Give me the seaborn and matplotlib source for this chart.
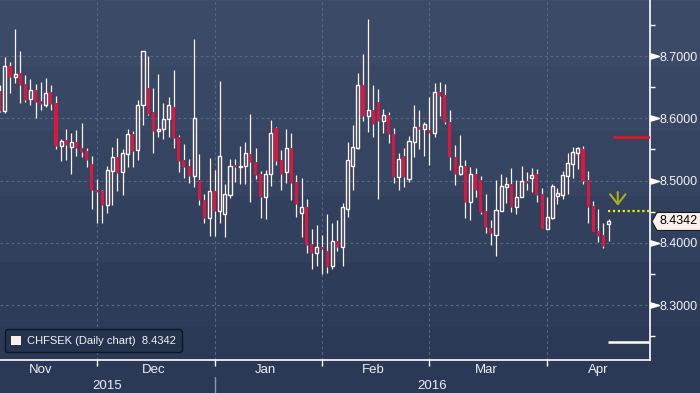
import numpy as np
import pandas as pd
import seaborn as sns
import matplotlib.pyplot as plt
import matplotlib.transforms as mtransforms
from matplotlib.colors import LinearSegmentedColormap
from matplotlib.patches import Polygon, Patch
from matplotlib.path import Path
from matplotlib.markers import MarkerStyle

# CHFSEK daily candles, 4 Nov 2015 .. 19 Apr 2016 (business days)
opens = [8.644, 8.612, 8.684, 8.667, 8.673, 8.655, 8.631, 8.645, 8.628, 8.622,
         8.642, 8.624, 8.556, 8.565, 8.554, 8.562, 8.552, 8.547, 8.527, 8.485,
         8.483, 8.460, 8.516, 8.538, 8.514, 8.542, 8.574, 8.549, 8.622, 8.649,
         8.610, 8.580, 8.583, 8.599, 8.618, 8.570, 8.533, 8.524, 8.508, 8.501,
         8.469, 8.440, 8.483, 8.451, 8.447, 8.477, 8.524, 8.521, 8.523, 8.543,
         8.530, 8.510, 8.474, 8.511, 8.585, 8.533, 8.513, 8.553, 8.498, 8.448,
         8.457, 8.398, 8.384, 8.393, 8.387, 8.362, 8.403, 8.394, 8.455, 8.524,
         8.553, 8.653, 8.604, 8.613, 8.626, 8.596, 8.605, 8.575, 8.505, 8.540,
         8.503, 8.562, 8.586, 8.583, 8.581, 8.577, 8.642, 8.637, 8.594, 8.538,
         8.511, 8.523, 8.466, 8.511, 8.501, 8.451, 8.424, 8.413, 8.451, 8.490,
         8.494, 8.457, 8.473, 8.499, 8.504, 8.510, 8.478, 8.422, 8.440, 8.475,
         8.477, 8.507, 8.527, 8.544, 8.551, 8.501, 8.459, 8.419, 8.412, 8.430]
highs = [8.653, 8.698, 8.691, 8.743, 8.708, 8.669, 8.663, 8.655, 8.659, 8.665,
         8.653, 8.636, 8.567, 8.583, 8.576, 8.581, 8.592, 8.552, 8.539, 8.502,
         8.485, 8.523, 8.554, 8.568, 8.550, 8.583, 8.580, 8.629, 8.708, 8.700,
         8.649, 8.671, 8.625, 8.634, 8.678, 8.573, 8.559, 8.535, 8.727, 8.543,
         8.479, 8.536, 8.517, 8.660, 8.494, 8.534, 8.534, 8.555, 8.562, 8.607,
         8.552, 8.515, 8.517, 8.597, 8.586, 8.549, 8.583, 8.576, 8.509, 8.504,
         8.471, 8.422, 8.429, 8.412, 8.446, 8.432, 8.437, 8.464, 8.562, 8.589,
         8.673, 8.704, 8.759, 8.653, 8.647, 8.615, 8.610, 8.584, 8.544, 8.552,
         8.571, 8.621, 8.613, 8.594, 8.634, 8.657, 8.658, 8.655, 8.613, 8.557,
         8.573, 8.533, 8.521, 8.520, 8.507, 8.478, 8.437, 8.501, 8.510, 8.506,
         8.520, 8.501, 8.524, 8.514, 8.520, 8.518, 8.488, 8.473, 8.494, 8.488,
         8.515, 8.544, 8.554, 8.554, 8.555, 8.515, 8.467, 8.454, 8.432, 8.438]
lows = [8.610, 8.609, 8.641, 8.657, 8.625, 8.626, 8.621, 8.601, 8.613, 8.618,
        8.613, 8.551, 8.532, 8.533, 8.511, 8.540, 8.538, 8.521, 8.454, 8.432,
        8.432, 8.448, 8.461, 8.483, 8.477, 8.522, 8.522, 8.533, 8.590, 8.605,
        8.545, 8.570, 8.567, 8.570, 8.553, 8.514, 8.504, 8.496, 8.490, 8.460,
        8.431, 8.411, 8.411, 8.431, 8.410, 8.472, 8.498, 8.495, 8.495, 8.466,
        8.502, 8.440, 8.439, 8.492, 8.525, 8.485, 8.496, 8.469, 8.442, 8.409,
        8.384, 8.358, 8.362, 8.350, 8.352, 8.358, 8.387, 8.363, 8.442, 8.484,
        8.551, 8.596, 8.578, 8.570, 8.471, 8.577, 8.561, 8.496, 8.485, 8.490,
        8.498, 8.538, 8.551, 8.539, 8.525, 8.570, 8.604, 8.591, 8.517, 8.493,
        8.509, 8.440, 8.437, 8.474, 8.446, 8.416, 8.397, 8.378, 8.451, 8.464,
        8.450, 8.446, 8.473, 8.485, 8.482, 8.465, 8.422, 8.422, 8.438, 8.462,
        8.470, 8.478, 8.504, 8.518, 8.494, 8.432, 8.417, 8.401, 8.392, 8.403]
closes = [8.612, 8.684, 8.667, 8.671, 8.653, 8.630, 8.645, 8.626, 8.623, 8.641,
          8.623, 8.555, 8.563, 8.557, 8.562, 8.553, 8.546, 8.533, 8.485, 8.482,
          8.460, 8.517, 8.538, 8.512, 8.545, 8.574, 8.548, 8.622, 8.708, 8.607,
          8.580, 8.583, 8.599, 8.622, 8.569, 8.532, 8.522, 8.508, 8.600, 8.469,
          8.440, 8.483, 8.451, 8.539, 8.478, 8.523, 8.522, 8.523, 8.545, 8.529,
          8.509, 8.474, 8.511, 8.576, 8.531, 8.510, 8.552, 8.496, 8.462, 8.457,
          8.396, 8.384, 8.393, 8.390, 8.361, 8.403, 8.393, 8.457, 8.533, 8.554,
          8.653, 8.604, 8.613, 8.591, 8.596, 8.605, 8.575, 8.505, 8.534, 8.505,
          8.563, 8.586, 8.583, 8.591, 8.577, 8.642, 8.636, 8.594, 8.538, 8.511,
          8.523, 8.466, 8.510, 8.484, 8.449, 8.426, 8.415, 8.453, 8.491, 8.494,
          8.457, 8.474, 8.499, 8.496, 8.509, 8.477, 8.422, 8.441, 8.491, 8.480,
          8.509, 8.528, 8.546, 8.552, 8.499, 8.457, 8.417, 8.411, 8.395, 8.4342]

start_date = '2015-11-04'
last_price = 8.4342
red_level = 8.570
white_level = 8.241
yellow_level = 8.451
arrow_top = 8.486
y_ticks = [8.3, 8.4, 8.5, 8.6, 8.7]
y_minor = [8.25, 8.35, 8.45, 8.55, 8.65, 8.75]
legend_label = 'CHFSEK (Daily chart)  8.4342'

RED = '#e0143c'
WHITE = '#fff2ee'
GRID = '#4e6c8a'
TXT = '#eceef4'

df = pd.DataFrame({'date': pd.bdate_range(start_date, periods=len(opens)),
                   'open': opens, 'high': highs, 'low': lows, 'close': closes})
df['pos'] = np.arange(len(df))
df['up'] = df['close'] >= df['open']

# month positions on the business-day axis
all_days = pd.bdate_range('2015-11-01', '2016-04-30')
offset = all_days.get_loc(pd.Timestamp(start_date))
mpos = pd.Series(np.arange(len(all_days)) - offset, index=all_days)
m_start = mpos.groupby(mpos.index.to_period('M')).min()
m_count = mpos.groupby(mpos.index.to_period('M')).size()
m_mid = m_start + m_count / 2 - 0.5
m_names = [p.strftime('%b') for p in m_start.index]
x_min, x_max = 0.05, 127.1

sns.set_style('dark', {'axes.facecolor': 'none'})
plt.rcParams['font.family'] = ['Liberation Sans', 'DejaVu Sans']

fig = plt.figure(figsize=(7, 3.93), dpi=100)

# background gradient
bg = fig.add_axes([0, 0, 1, 1], zorder=0)
cmap = LinearSegmentedColormap.from_list('bb', ['#2b3956', '#3f4f6b'])
levels = np.floor(np.linspace(0, 1, 393) * 6) / 6
bg.imshow(levels[:, None], aspect='auto', cmap=cmap, origin='lower',
          extent=[0, 1, 0, 1], vmin=0, vmax=1)
bg.axis('off')

ax = fig.add_axes([0, 33 / 393, 650 / 700, 360 / 393], zorder=1)
ax.patch.set_alpha(0)

# candles
w = 0.6
top = df[['open', 'close']].max(axis=1)
bot = df[['open', 'close']].min(axis=1)
ax.vlines(df['pos'], top, df['high'], color=WHITE, lw=0.9, zorder=3)
ax.vlines(df['pos'], df['low'], bot, color=WHITE, lw=0.9, zorder=3)
body = (df['close'] - df['open']).abs().clip(lower=0.0022)
up = df['up']
ax.bar(df['pos'][up], body[up], bottom=bot[up], width=w, facecolor='none',
       edgecolor=WHITE, lw=1.0, zorder=4)
ax.bar(df['pos'][~up], body[~up], bottom=bot[~up], width=w, color=RED,
       lw=0, zorder=4)

# annotation levels
ax.hlines(red_level, 119.8, x_max, color='#f01020', lw=1.8, zorder=5)
ax.hlines(white_level, 118.8, x_max, color='white', lw=1.8, zorder=5)
ax.hlines(yellow_level, 118.8, x_max, color='#f2f000', lw=1.6,
          linestyles=(0, (1, 1.2)), zorder=5)
ax.annotate('', xy=(120.8, yellow_level + 0.004), xytext=(120.8, arrow_top),
            arrowprops=dict(arrowstyle='->,head_length=0.7,head_width=0.55',
                            color='#a9ad22', lw=1.5), zorder=6)

ax.set_xlim(x_min, x_max)
ax.set_ylim(8.2117, 8.790)

# grid
for y in y_ticks:
    ax.axhline(y, color=GRID, lw=0.8, dashes=(2.5, 2.5), zorder=1)
for x in m_start[m_start > x_min]:
    ax.axvline(x, color=GRID, lw=0.8, dashes=(2.5, 2.5), zorder=1)

# spines
for s in ['left', 'top']:
    ax.spines[s].set_visible(False)
for s in ['right', 'bottom']:
    ax.spines[s].set_visible(True)
    ax.spines[s].set_color('white')
    ax.spines[s].set_linewidth(1.2)

# x axis: month boundaries and names
ax.set_xticks(m_start[m_start > x_min].values)
ax.set_xticklabels([])
ax.set_xticks(m_mid.values, minor=True)
ax.set_xticklabels(m_names, minor=True)
ax.tick_params(axis='x', which='major', direction='out', length=4, width=1,
               color='white', bottom=True)
ax.tick_params(axis='x', which='minor', length=0, pad=3, labelsize=9.5,
               labelcolor=TXT)
jan = m_start.iloc[2]
xtr = ax.get_xaxis_transform()
ax.text((x_min + jan) / 2, -0.072, '2015', transform=xtr, ha='center',
        va='center', fontsize=9.5, color=TXT)
ax.text((jan + x_max) / 2, -0.072, '2016', transform=xtr, ha='center',
        va='center', fontsize=9.5, color=TXT)
ax.plot([jan, jan], [-0.047, -0.095], transform=xtr, color='#8d95a5', lw=1,
        clip_on=False)

# y axis on the right with triangle markers
ax.yaxis.tick_right()
ax.set_yticks(y_ticks)
ax.set_yticklabels(['{:.4f}'.format(v) for v in y_ticks])
ax.set_yticks(y_minor, minor=True)
ax.tick_params(axis='y', which='major', length=0, pad=7, labelsize=9,
               labelcolor='#f2f2f2', right=True, left=False)
ax.tick_params(axis='y', which='minor', direction='out', length=3.5, width=1,
               color='white', right=True, left=False)
tri = MarkerStyle(Path([(0, -0.3), (1, 0), (0, 0.3), (0, -0.3)]))
ax.plot([1.0] * len(y_ticks), y_ticks, transform=ax.get_yaxis_transform(),
        ls='none', marker=tri, ms=13, color='white', clip_on=False, zorder=6)

# last price tag
tag_tr = fig.dpi_scale_trans + mtransforms.ScaledTranslation(
    1.0, last_price, ax.get_yaxis_transform())
tag = Polygon([(0.02, 0), (0.07, 0.09), (0.52, 0.09), (0.52, -0.09),
               (0.07, -0.09)], closed=True, transform=tag_tr,
              facecolor='#fdf0ea', edgecolor='#141c2e', lw=0.8,
              clip_on=False, zorder=7)
ax.add_patch(tag)
ax.annotate('{:.4f}'.format(last_price), xy=(1.0, last_price),
            xycoords=ax.get_yaxis_transform(), xytext=(7, 0),
            textcoords='offset points', va='center', ha='left', fontsize=9,
            color='black', zorder=8, annotation_clip=False)

# legend
leg = ax.legend(handles=[Patch(facecolor='#fdeeea', edgecolor='none')],
                labels=[legend_label], loc='lower left',
                bbox_to_anchor=(0.0077, 0.022), borderaxespad=0,
                handlelength=0.9, handleheight=0.9, handletextpad=0.5,
                fontsize=8, frameon=True, fancybox=True, framealpha=1,
                borderpad=0.55)
leg.get_frame().set_facecolor('#26334f')
leg.get_frame().set_edgecolor('#0e1626')
for t in leg.get_texts():
    t.set_color('#f3f3f3')

fig.savefig('out.png', dpi=100)
